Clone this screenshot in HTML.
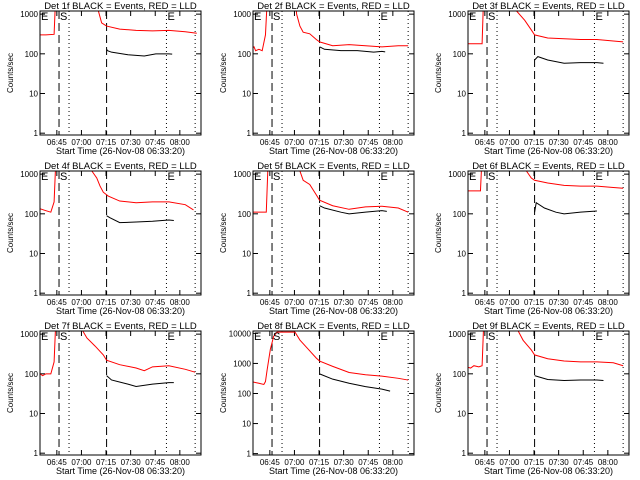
<!DOCTYPE html>
<html><head><meta charset="utf-8"><style>
html,body{margin:0;padding:0;background:#fff;}
svg{display:block;font-family:"Liberation Sans",sans-serif;}
</style></head><body>
<svg id="chart" width="640" height="480" viewBox="0 0 640 480"></svg>
<script>
// minutes since 06:33:20
const tickTimes = [11.67, 26.67, 41.67, 56.67, 71.67, 86.67];
const tickLabels = ["06:45", "07:00", "07:15", "07:30", "07:45", "08:00"];
const markerDashed = [13, 42];
const markerDotted = [19.1, 78.5, 96];
const detNames = ["1f","2f","3f","4f","5f","6f","7f","8f","9f"];
const yMaxes = [1200,1200,1200,1200,1200,1200,1200,12000,1200];
const redT = [
 [0,5,10,10.8,11.2,36,37,39,42,50,60,70,80,90,97],
 [0,2,3,5,7,9,10,27,28,30,32,36,40,42,50,60,70,80,90,96],
 [0,5,10,10.8,11.2,30,31,36,40,42,50,60,70,80,90,96],
 [0,5,8,10,11,32,33,36,38,40,43,50,60,70,80,90,95],
 [0,5,9.5,10.5,11,29,30,32,36,40,42,50,60,70,80,90,96],
 [0,5,9,9.8,10.2,36,37,40,42,50,60,70,80,90,96],
 [0,3,5,8,10,11,26,27.5,30,35,40,42,50,60,65,70,80,90,96],
 [0,5,8,9,10,12,14,16,27,30,35,40,42,50,60,70,80,90,96],
 [0,3,5,8,10,11,31,32,35,40,42,50,60,70,80,90,96]
];
const redV = [
 [300,300,310,2000,3000,3000,1200,600,500,420,390,380,390,360,330],
 [130,150,120,130,120,300,2000,3000,1000,500,350,320,230,200,160,170,160,150,160,160],
 [180,180,180,2000,3000,3000,1200,700,400,300,250,240,230,230,210,200],
 [140,120,110,200,2000,3000,1200,800,500,350,280,210,190,200,200,170,125],
 [110,110,110,1500,3000,3000,1200,700,550,300,220,160,130,150,155,140,110],
 [380,380,380,2000,3000,3000,1200,800,700,600,520,500,500,460,440],
 [110,90,100,100,200,2000,3000,1200,800,500,300,220,170,140,120,150,160,130,110],
 [250,220,200,250,600,3000,8000,11000,11000,6000,3000,1500,1200,800,500,420,380,320,280],
 [150,140,160,150,160,2000,3000,1200,700,400,300,240,210,200,200,190,160]
];
const blackT = [
 [42,42.6,45,55,65,72,80,82],
 [42,45,55,65,75,80,82],
 [42,44,50,60,70,80,84],
 [42,44,50,60,70,80,83],
 [42,45,55,60,70,80,83],
 [42,43,48,55,60,70,80,84],
 [42,45,55,60,70,80,83],
 [42,50,60,70,80,85],
 [42,44,50,60,70,80,84]
];
const blackV = [
 [130,120,110,95,88,100,100,98],
 [150,130,120,120,110,115,112],
 [70,85,70,58,60,60,58],
 [90,80,60,62,65,70,68],
 [160,140,110,100,110,120,115],
 [110,190,140,110,100,110,118],
 [90,70,55,48,55,60,60],
 [450,300,220,170,140,120],
 [90,85,72,68,70,70,68]
];

const NS = "http://www.w3.org/2000/svg";
const svg = document.getElementById('chart');
const colLeft = [40, 253, 468];
const colYLabel = [13, 226, 441];
const boxW = 161, boxH = 124;
function mk(tag, attrs, parent){
  const e = document.createElementNS(NS, tag);
  for (const k in attrs) e.setAttribute(k, attrs[k]);
  parent.appendChild(e);
  return e;
}
for (let i = 0; i < 9; i++) {
  const c = i % 3, r = Math.floor(i / 3);
  const L = colLeft[c], T = 11 + r * 160, B = T + boxH, R = L + boxW;
  const yMin = 0.9, yMax = yMaxes[i];
  const xs = t => L + (t - 1.4) * 1.64;
  const ys = v => B - (Math.log10(v) - Math.log10(yMin)) / (Math.log10(yMax) - Math.log10(yMin)) * boxH;
  const g = mk('g', {}, svg);
  
  
  const clipId = 'clip' + i;
  const cp = mk('clipPath', {id: clipId}, g);
  mk('rect', {x: L, y: T, width: boxW, height: boxH}, cp);
  const title = mk('text', {x: L + boxW / 2, y: T - 2, 'text-anchor': 'middle', 'font-size': '9.5'}, g);
  title.textContent = 'Det ' + detNames[i] + ' BLACK = Events, RED = LLD';
  
  
  const yl = mk('text', {x: colYLabel[c], y: T + boxH / 2, 'text-anchor': 'middle', 'font-size': '8', transform: 'rotate(-90 ' + colYLabel[c] + ' ' + (T + boxH / 2) + ')'}, g);
  yl.textContent = 'Counts/sec';
  
  
  const xl = mk('text', {x: L + boxW / 2, y: B + 19, 'text-anchor': 'middle', 'font-size': '9'}, g);
  xl.textContent = 'Start Time (26-Nov-08 06:33:20)';
  
  
  const decades = Math.round(Math.log10(yMax));
  for (let d = 0; d <= decades; d++) {
    const v = Math.pow(10, d), y = ys(v);
    mk('line', {x1: L, x2: L + 5, y1: y, y2: y, stroke: '#000', 'stroke-width': 1}, g);
    mk('line', {x1: R - 5, x2: R, y1: y, y2: y, stroke: '#000', 'stroke-width': 1}, g);
    const tl = mk('text', {x: L - 2, y: y + 3, 'text-anchor': 'end', 'font-size': '8'}, g);
    tl.textContent = String(v);
    
    
  }
  tickTimes.forEach((t, k) => {
    const x = xs(t);
    mk('line', {x1: x, x2: x, y1: B, y2: B - 5, stroke: '#000', 'stroke-width': 1}, g);
    mk('line', {x1: x, x2: x, y1: T, y2: T + 5, stroke: '#000', 'stroke-width': 1}, g);
    const tl = mk('text', {x: x, y: B + 10, 'text-anchor': 'middle', 'font-size': '8'}, g);
    tl.textContent = tickLabels[k];
    
    
  });
  markerDashed.forEach(t => {
    const l = mk('line', {x1: xs(t), x2: xs(t), y1: T, y2: B, stroke: '#000', 'stroke-width': 1, 'stroke-dasharray': '8,4'}, g);
    
    
  });
  markerDotted.forEach(t => {
    const l = mk('line', {x1: xs(t), x2: xs(t), y1: T, y2: B, stroke: '#000', 'stroke-width': 1, 'stroke-dasharray': '1,3'}, g);
    
    
  });
  const red = mk('polyline', {points: redT[i].map((t, k) => xs(t) + ',' + ys(redV[i][k])).join(' '), fill: 'none', stroke: '#ff0000', 'stroke-width': 1, 'clip-path': 'url(#' + clipId + ')'}, g);
  
  
  const blk = mk('polyline', {points: blackT[i].map((t, k) => xs(t) + ',' + ys(blackV[i][k])).join(' '), fill: 'none', stroke: '#000', 'stroke-width': 1, 'clip-path': 'url(#' + clipId + ')'}, g);
  
  
  [['E', L + 1], ['S', xs(markerDashed[0]) + 1], ['E', xs(markerDotted[1]) + 1]].forEach(([s, x]) => {
    const tx = mk('text', {x: x, y: T + 9, 'font-size': '11'}, g);
    tx.textContent = s;
    
    
  });
  const box = mk('rect', {x: L, y: T, width: boxW, height: boxH, fill: 'none', stroke: '#000', 'stroke-width': 1}, g);
  
  
}
</script>
</body></html>
